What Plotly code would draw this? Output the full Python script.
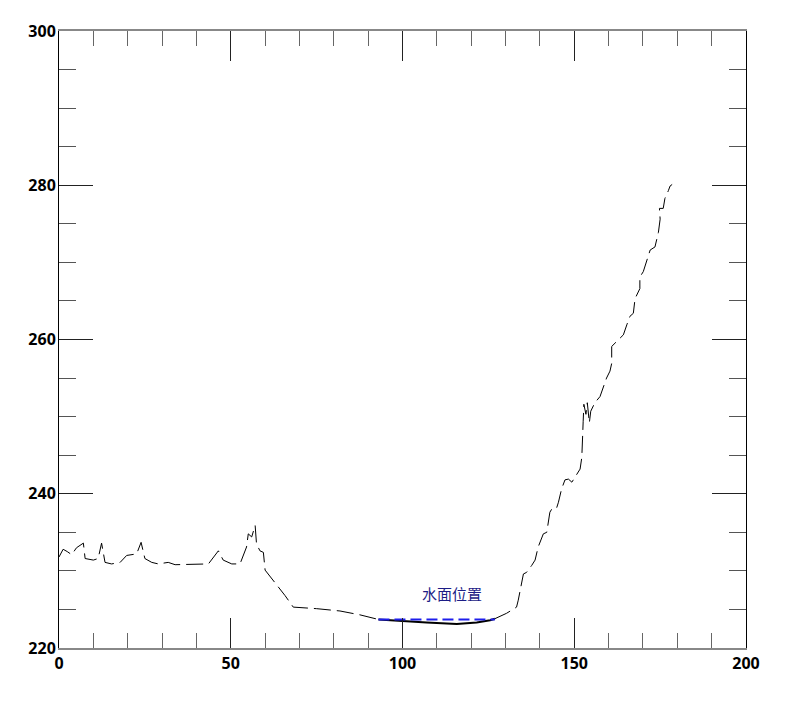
import plotly.graph_objects as go

# Ground profile (station, elevation)
station = [0, 1.2, 2.4, 3.7, 5.1, 7.1, 7.6, 10.0, 11.4, 12.4, 13.4, 15.3, 17.8, 19.7,
           22.6, 23.9, 25.0, 27.0, 28.9, 31.8, 33.8, 43.5, 46.4, 47.8, 50.3, 52.7,
           54.6, 55.1, 56.1, 57.1, 57.5, 58.5, 59.5, 60.0, 65.8, 68.2, 75.0, 81.8,
           87.6, 93.0, 99.3, 107.0, 115.8, 121.6, 125.5, 126.9, 130.3, 133.2, 133.7,
           135.2, 136.1, 137.6, 138.6, 139.5, 141.0, 142.0, 142.9, 143.7, 144.9,
           145.4, 146.3, 147.3, 148.3, 149.3, 150.7, 151.7, 152.2, 152.4, 152.6,
           152.8, 153.4, 153.8, 154.4, 154.8, 156.0, 157.5, 158.5, 159.4, 160.4,
           160.9, 160.9, 162.3, 164.3, 165.3, 166.2, 167.2, 167.7, 169.1, 169.1,
           170.1, 171.3, 172.1, 173.5, 174.5, 175.0, 174.8, 175.9, 176.4, 177.4,
           177.9, 178.5]
elevation = [231.8, 232.8, 232.5, 232.1, 233.0, 233.6, 231.6, 231.4, 231.6, 233.6, 231.1,
             230.9, 231.1, 232.0, 232.2, 233.7, 231.6, 231.1, 230.9, 231.1, 230.8,
             230.9, 232.6, 231.4, 230.9, 230.9, 233.1, 234.8, 234.4, 235.9, 233.5,
             232.6, 232.4, 230.1, 226.8, 225.3, 225.1, 224.8, 224.3, 223.7, 223.5,
             223.3, 223.1, 223.3, 223.6, 223.8, 224.5, 225.3, 226.2, 229.6, 229.8,
             230.7, 231.4, 233.1, 234.8, 235.0, 237.6, 238.2, 238.2, 238.9, 240.6,
             241.8, 241.9, 241.5, 242.5, 243.2, 244.7, 248.6, 249.4, 251.6, 250.3,
             251.8, 249.2, 250.7, 251.8, 252.6, 254.0, 255.0, 255.9, 256.9, 259.1,
             259.7, 260.6, 261.9, 263.0, 263.4, 265.3, 266.6, 268.1, 268.8, 270.5,
             271.6, 272.0, 273.9, 275.6, 277.0, 277.0, 278.3, 279.3, 279.9, 280.1]

water_level = 223.7
water_x = [93.0, 126.9]
label_text = "水面位置"
label_pos = (114.3, 227.1)

x_ticks = [0, 50, 100, 150, 200]
y_ticks = [220, 240, 260, 280, 300]

left = [(x, y) for x, y in zip(station, elevation) if x <= water_x[0]]
wet = [(x, y) for x, y in zip(station, elevation) if water_x[0] <= x <= water_x[1]]
right = [(x, y) for x, y in zip(station, elevation) if x >= water_x[1]]

fig = go.Figure()
for seg in (left, right):
    fig.add_trace(go.Scatter(x=[p[0] for p in seg], y=[p[1] for p in seg], mode="lines",
                             line=dict(color="black", width=1, dash="17px,6px"),
                             showlegend=False, hoverinfo="skip"))
fig.add_trace(go.Scatter(x=[p[0] for p in wet], y=[p[1] for p in wet], mode="lines",
                         line=dict(color="black", width=2),
                         showlegend=False, hoverinfo="skip"))
fig.add_trace(go.Scatter(x=water_x, y=[water_level, water_level], mode="lines",
                         line=dict(color="rgb(30,30,235)", width=2, dash="11px,5px"),
                         showlegend=False, hoverinfo="skip"))

fig.add_annotation(x=label_pos[0], y=label_pos[1], text=label_text, showarrow=False,
                   font=dict(family="Noto Sans CJK SC", size=15, color="#1c1c86"))

tickfont = dict(family="Open Sans", size=16, color="black", weight="bold")
fig.update_xaxes(range=[0, 200], tickvals=x_ticks, ticktext=[str(v) for v in x_ticks],
                 ticks="inside", ticklen=30, tickwidth=1, tickcolor="#222",
                 showline=True, linecolor="#888", linewidth=2, mirror="allticks",
                 showgrid=False, zeroline=False, tickfont=tickfont,
                 minor=dict(dtick=10, tick0=0, ticks="inside", ticklen=15,
                            tickwidth=1, tickcolor="#666", showgrid=False))
fig.update_yaxes(range=[220, 300], tickvals=y_ticks, ticktext=[str(v) for v in y_ticks],
                 ticks="inside", ticklen=34, tickwidth=1, tickcolor="#222",
                 showline=True, linecolor="black", linewidth=1, mirror="allticks",
                 showgrid=False, zeroline=False, tickfont=tickfont, ticklabelstandoff=-1,
                 minor=dict(dtick=5, tick0=0, ticks="inside", ticklen=17,
                            tickwidth=1, tickcolor="#555", showgrid=False))

fig.update_layout(width=793, height=704, margin=dict(l=51, r=55, t=20, b=64),
                  paper_bgcolor="white", plot_bgcolor="white")
fig.write_html("out.html")
